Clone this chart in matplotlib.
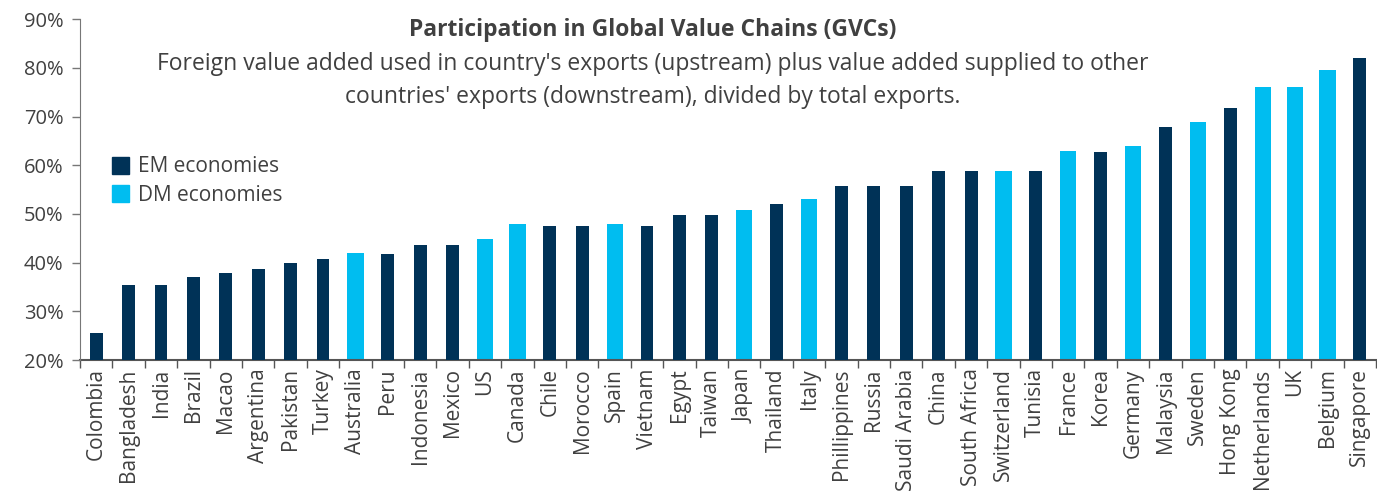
import matplotlib
matplotlib.use("Agg")
import matplotlib.pyplot as plt
import numpy as np
from matplotlib.patches import Patch

countries = ["Colombia", "Bangladesh", "India", "Brazil", "Macao", "Argentina", "Pakistan",
             "Turkey", "Australia", "Peru", "Indonesia", "Mexico", "US", "Canada", "Chile",
             "Morocco", "Spain", "Vietnam", "Egypt", "Taiwan", "Japan", "Thailand", "Italy",
             "Phillippines", "Russia", "Saudi Arabia", "China", "South Africa", "Switzerland",
             "Tunisia", "France", "Korea", "Germany", "Malaysia", "Sweden", "Hong Kong",
             "Netherlands", "UK", "Belgium", "Singapore"]
values = [25.6, 35.5, 35.5, 37.0, 37.9, 38.6, 40.0, 40.8, 41.9, 41.7, 43.6, 43.6, 44.8, 48.0,
          47.6, 47.6, 48.0, 47.6, 49.7, 49.7, 50.9, 52.1, 53.0, 55.7, 55.7, 55.7, 58.9, 58.9,
          58.9, 58.9, 62.9, 62.7, 63.9, 67.9, 68.9, 71.8, 76.1, 76.1, 79.5, 82.1]
group = ["EM", "EM", "EM", "EM", "EM", "EM", "EM", "EM", "DM", "EM", "EM", "EM", "DM", "DM",
         "EM", "EM", "DM", "EM", "EM", "EM", "DM", "EM", "DM", "EM", "EM", "EM", "EM", "EM",
         "DM", "EM", "DM", "EM", "DM", "EM", "DM", "EM", "DM", "DM", "DM", "EM"]
yticks = [20, 30, 40, 50, 60, 70, 80, 90]
title = "Participation in Global Value Chains (GVCs)"
subtitle = ("Foreign value added used in country's exports (upstream) plus value added supplied to other\n"
            "countries' exports (downstream), divided by total exports.")

EM_COLOR = "#003257"
DM_COLOR = "#00BDF0"
TEXT = "#404040"

plt.rcParams['font.family'] = ['Open Sans', 'DejaVu Sans']

fig = plt.figure(figsize=(13.77, 5.01), dpi=100)
ax = fig.add_axes([0.0581, 0.2814, 0.9412, 0.6801])

x = np.arange(len(countries))
base = 20
for i, (v, g) in enumerate(zip(values, group)):
    if g == "EM":
        ax.bar(i, v - base, bottom=base, width=0.4, color=EM_COLOR, zorder=2)
    else:
        ax.bar(i, v - base + 0.3, bottom=base - 0.3, width=0.5, color=DM_COLOR, zorder=1,
               clip_on=False)

ax.set_xlim(-0.5, len(countries) - 0.5)
ax.set_ylim(20, 90)
ax.set_yticks(yticks)
ax.set_yticklabels([f"{t}%" for t in yticks], fontsize=14.5, color=TEXT)
ax.set_xticks(x)
ax.set_xticklabels(countries, rotation=90, fontsize=15, color=TEXT)
ax.set_xticks(np.arange(len(countries) + 1) - 0.5, minor=True)
ax.tick_params(axis='x', which='major', length=0, pad=6)
ax.tick_params(axis='x', which='minor', length=6, color="#555555", width=1)
ax.tick_params(axis='y', length=6, color="#777777", width=1, pad=6)

for s in ["top", "right"]:
    ax.spines[s].set_visible(False)
ax.spines["left"].set_color("#777777")
ax.spines["bottom"].set_color("#555555")
ax.spines["bottom"].set_linewidth(1.5)
ax.spines["bottom"].set_zorder(1.5)

fig.text(0.474, 0.94, title, ha="center", va="center", fontsize=16.5, fontweight="bold", color=TEXT)
fig.text(0.474, 0.84, subtitle, ha="center", va="center", fontsize=16.5, color=TEXT,
         linespacing=1.5)

handles = [Patch(color=EM_COLOR, label="EM economies"), Patch(color=DM_COLOR, label="DM economies")]
leg = ax.legend(handles=handles, loc="upper left", bbox_to_anchor=(0.018, 0.622), frameon=False,
                fontsize=15, handlelength=0.85, handleheight=0.85, handletextpad=0.4,
                labelspacing=0.35, borderaxespad=0)
for t in leg.get_texts():
    t.set_color(TEXT)

fig.savefig("out.png", dpi=100)
